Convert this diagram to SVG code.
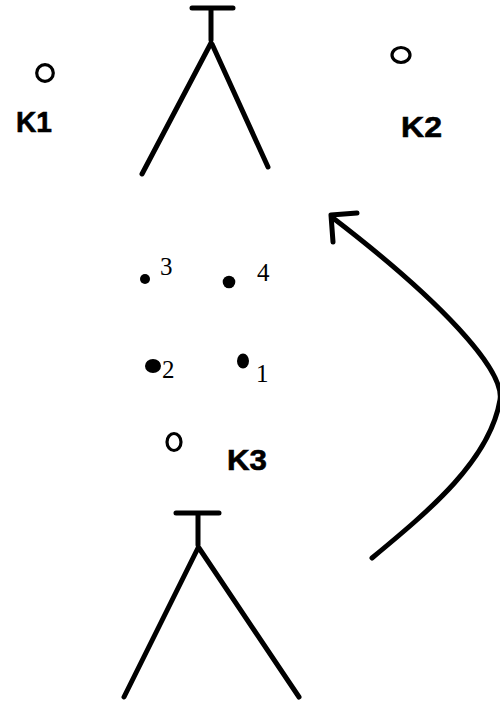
<svg xmlns="http://www.w3.org/2000/svg" width="500" height="704" viewBox="0 0 500 704">
<style>
.ln{stroke:#000;stroke-width:5;fill:none;stroke-linecap:round;stroke-linejoin:round}
.st{fill:#fff;stroke:#000;stroke-width:3.2}
.dot{fill:#000}
.k{font-family:"Liberation Sans",Arial,sans-serif;font-weight:bold;font-size:30px;fill:#000;stroke:#000;stroke-width:0.6}
.n{font-family:"Liberation Serif","Times New Roman",serif;font-size:25px;fill:#000}
</style>
<rect width="500" height="704" fill="#fff"/>
<g id="tripod-top">
<path class="ln" d="M192,8 H233 M211,8 V40 M211,43 L142,174 M212,44 L268,167"/>
</g>
<g id="K1">
<circle class="st" cx="45" cy="73" r="8.3"/>
<text class="k" x="16" y="132" textLength="36" lengthAdjust="spacingAndGlyphs">K1</text>
</g>
<g id="K2">
<ellipse class="st" cx="401" cy="55" rx="9" ry="7.5"/>
<text class="k" x="401" y="137" textLength="41" lengthAdjust="spacingAndGlyphs">K2</text>
</g>
<g id="P3">
<circle class="dot" cx="145" cy="279" r="5"/>
<text class="n" x="160" y="275">3</text>
</g>
<g id="P4">
<circle class="dot" cx="229" cy="282" r="6.3"/>
<text class="n" x="257" y="281">4</text>
</g>
<g id="P2">
<ellipse class="dot" cx="153" cy="366" rx="8" ry="7"/>
<text class="n" x="162" y="378">2</text>
</g>
<g id="P1">
<ellipse class="dot" cx="243" cy="361" rx="6" ry="7.5"/>
<text class="n" x="256" y="382">1</text>
</g>
<g id="K3">
<ellipse class="st" cx="174" cy="442" rx="7" ry="8.5"/>
<text class="k" x="227" y="470" textLength="40" lengthAdjust="spacingAndGlyphs">K3</text>
</g>
<g id="tripod-bottom">
<path class="ln" d="M176,513 H219 M198,513 V545 M198,548 L124,697 M199,548 L299,697"/>
</g>
<g id="connectors">
<path class="ln" d="M372,558 C430,510 490,460 500,400 C505,370 440,300 333,218"/>
<path class="ln" d="M357,213 L331,215 L333,242"/>
</g>
</svg>
